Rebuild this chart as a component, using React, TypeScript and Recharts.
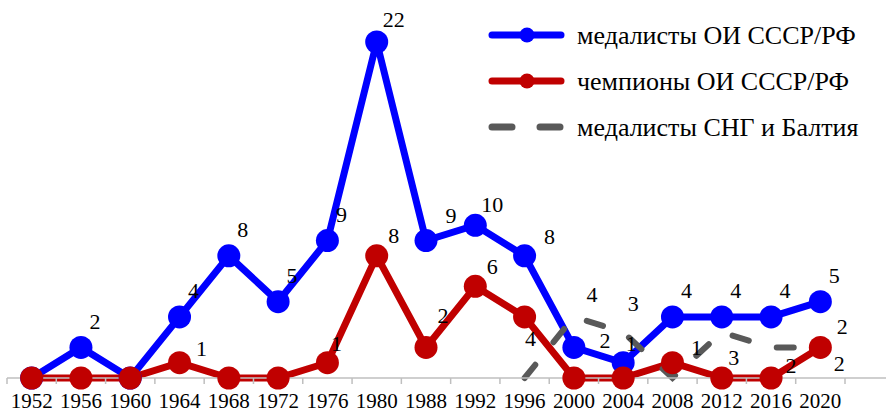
import React from 'react';
import { LineChart, Line, XAxis, YAxis } from 'recharts';

const years = ['1952', '1956', '1960', '1964', '1968', '1972', '1976', '1980', '1988', '1992', '1996', '2000', '2004', '2008', '2012', '2016', '2020'];
const medalistsUSSR = [0, 2, 0, 4, 8, 5, 9, 22, 9, 10, 8, 2, 1, 4, 4, 4, 5];
const championsUSSR = [0, 0, 0, 1, 0, 0, 1, 8, 2, 6, 4, 0, 0, 1, 0, 0, 2];
const medalistsCIS: (number | null)[] = [null, null, null, null, null, null, null, null, null, null, 0, 4, 3, 0, 3, 2, 2];

const seriesNames = ['медалисты ОИ СССР/РФ', 'чемпионы ОИ СССР/РФ', 'медалисты СНГ и Балтия'];

const data = years.map((year, i) => ({
  year,
  blue: medalistsUSSR[i],
  red: championsUSSR[i],
  gray: medalistsCIS[i],
}));

const W = 886;
const H = 413;
const M_LEFT = 7;
const M_TOP = 42;
const AXIS_H = 35;
const PAD_RIGHT = 41;
const STEP = (W - M_LEFT - PAD_RIGHT) / years.length;
const AXIS_Y = H - AXIS_H;
const FONT = "'Liberation Serif', 'Tinos', 'Times New Roman', 'DejaVu Serif', serif";

const BLUE = '#0000FF';
const RED = '#C00000';
const GRAY = '#595959';
const AXIS_COLOR = '#BFBFBF';

type Off = [number, number];
const labelDefaults: Record<string, Off> = { blue: [14, -26], red: [17, -20], gray: [14, -25] };
const labelExceptions: Record<string, Record<number, Off>> = {
  blue: { 7: [17, -23], 8: [25, -25], 9: [17, -21], 10: [25, -19], 11: [31, -7], 12: [8, -19] },
  red: { 3: [22, -14], 6: [9, -19], 8: [17, -32], 10: [6, 22], 13: [24, -15], 16: [22, -21] },
  gray: { 11: [18, -22], 12: [10, -29], 14: [12, 25], 15: [20, 18], 16: [19, 16] },
};

const makeLabel = (key: string) => (props: any) => {
  const { x, y, value, index } = props;
  if (value === null || value === undefined || value === 0) return null;
  const off = labelExceptions[key][index] || labelDefaults[key];
  return (
    <text
      x={x + off[0]}
      y={y + off[1]}
      textAnchor="middle"
      dominantBaseline="central"
      style={{ fontFamily: FONT, fontSize: 22 }}
      fill="#000"
    >
      {value}
    </text>
  );
};

const Tick = (props: any) => {
  const { x, payload, index } = props;
  const left = x - STEP / 2;
  return (
    <g>
      <line x1={left} x2={left} y1={AXIS_Y} y2={AXIS_Y + 6} stroke={AXIS_COLOR} strokeWidth={1.5} />
      {index === years.length - 1 && (
        <line x1={x + STEP / 2} x2={x + STEP / 2} y1={AXIS_Y} y2={AXIS_Y + 6} stroke={AXIS_COLOR} strokeWidth={1.5} />
      )}
      <text x={x} y={AXIS_Y + 30} textAnchor="middle" style={{ fontFamily: FONT, fontSize: 21 }} fill="#000">
        {payload.value}
      </text>
    </g>
  );
};

const LegendBox = () => {
  const rows = [
    { color: BLUE, dot: true, dash: undefined as string | undefined },
    { color: RED, dot: true, dash: undefined as string | undefined },
    { color: GRAY, dot: false, dash: '20 28' },
  ];
  return (
    <svg width={396} height={150} style={{ position: 'absolute', left: 486, top: 10, display: 'block' }}>
      {rows.map((r, i) => {
        const cy = 25 + i * 46;
        return (
          <g key={i}>
            <line
              x1={6}
              x2={r.dash ? 79 : 75}
              y1={cy}
              y2={cy}
              stroke={r.color}
              strokeWidth={7}
              strokeLinecap="round"
              strokeDasharray={r.dash}
            />
            {r.dot && <circle cx={41} cy={cy} r={7.5} fill={r.color} />}
            <text x={91} y={cy} dominantBaseline="central" style={{ fontFamily: FONT, fontSize: 26 }} fill="#000">
              {seriesNames[i]}
            </text>
          </g>
        );
      })}
    </svg>
  );
};

export default function App() {
  return (
    <div style={{ position: 'absolute', left: 0, top: 0, width: W, height: H, background: '#fff', overflow: 'hidden' }}>
      <LineChart width={W} height={H} data={data} margin={{ top: M_TOP, right: 0, bottom: 0, left: M_LEFT }}>
        <XAxis
          dataKey="year"
          scale="band"
          interval={0}
          padding={{ left: 0, right: PAD_RIGHT }}
          height={AXIS_H}
          tickLine={false}
          axisLine={{ stroke: AXIS_COLOR, strokeWidth: 1.5 }}
          tick={<Tick />}
        />
        <YAxis hide domain={[0, 22]} />
        <Line
          dataKey="blue"
          name={seriesNames[0]}
          stroke={BLUE}
          strokeWidth={7}
          dot={{ r: 11.5, fill: BLUE, stroke: 'none' }}
          activeDot={false}
          isAnimationActive={false}
          label={makeLabel('blue')}
        />
        <Line
          dataKey="red"
          name={seriesNames[1]}
          stroke={RED}
          strokeWidth={7}
          dot={{ r: 11.5, fill: RED, stroke: 'none' }}
          activeDot={false}
          isAnimationActive={false}
          label={makeLabel('red')}
        />
        <Line
          dataKey="gray"
          name={seriesNames[2]}
          stroke={GRAY}
          strokeWidth={6}
          strokeDasharray="17 29"
          strokeLinecap="round"
          dot={false}
          activeDot={false}
          connectNulls={false}
          isAnimationActive={false}
          label={makeLabel('gray')}
        />
      </LineChart>
      <LegendBox />
    </div>
  );
}
